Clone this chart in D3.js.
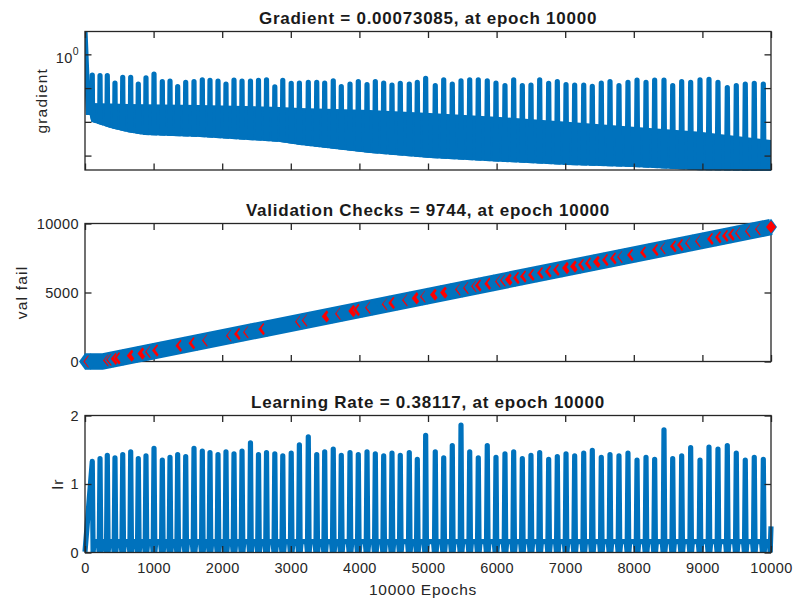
<!DOCTYPE html>
<html>
<head>
<meta charset="utf-8">
<script src="https://cdn.jsdelivr.net/npm/d3@7"></script>
<style>
  body { margin: 0; background: #fff; }
  text { font-family: "Liberation Sans", Arial, Helvetica, sans-serif; fill: #262626; }
</style>
</head>
<body>
<div id="chart"></div>
<script>
// ---- values ----
const xTickValues = [0, 1000, 2000, 3000, 4000, 5000, 6000, 7000, 8000, 9000, 10000];

// epochs where the learning rate peaks (the gradient spikes at the same epochs)
const spikeEpochs = [106, 219, 325, 437, 550, 666, 777, 889, 1006, 1127,
  1239, 1351, 1468, 1589, 1710, 1822, 1939, 2055, 2172, 2289,
  2412, 2529, 2646, 2767, 2883, 3006, 3125, 3255, 3378, 3494,
  3619, 3736, 3863, 3984, 4111, 4232, 4354, 4475, 4596, 4727,
  4844, 4966, 5106, 5229, 5354, 5481, 5608, 5733, 5864, 5991,
  6122, 6249, 6375, 6501, 6628, 6759, 6885, 7012, 7138, 7270,
  7395, 7526, 7653, 7784, 7915, 8047, 8178, 8304, 8440, 8567,
  8698, 8829, 8965, 9096, 9227, 9363, 9494, 9625, 9756, 9888];

// gradient
const gradPeaks = [0.242, 0.233, 0.233, 0.140, 0.207, 0.207, 0.131, 0.200, 0.260, 0.155,
  0.160, 0.110, 0.147, 0.157, 0.177, 0.169, 0.160, 0.131, 0.172, 0.160,
  0.160, 0.169, 0.177, 0.108, 0.171, 0.138, 0.140, 0.147, 0.147, 0.140,
  0.165, 0.110, 0.131, 0.157, 0.126, 0.157, 0.140, 0.123, 0.138, 0.131,
  0.147, 0.193, 0.118, 0.177, 0.131, 0.165, 0.177, 0.177, 0.165, 0.140,
  0.118, 0.177, 0.118, 0.123, 0.177, 0.138, 0.155, 0.126, 0.123, 0.123,
  0.112, 0.140, 0.157, 0.118, 0.147, 0.172, 0.147, 0.172, 0.172, 0.118,
  0.155, 0.147, 0.177, 0.181, 0.147, 0.104, 0.118, 0.131, 0.138, 0.131];
const gradStart = 4.7;
const gradFinal = 0.00073085;
// dense oscillation band between the spikes
const gradEnvEpochs = [0, 69, 92, 383, 627, 870, 1676, 2843, 3134, 4154, 5029, 6049, 7026, 7988, 8965, 10000];
const gradLow = [0.016, 0.016, 0.0101, 0.00646, 0.00491, 0.00408, 0.00356, 0.00253, 0.00206, 0.00119, 0.00085, 0.00066, 0.00053, 0.00046, 0.00037, 0.00035];
const gradBandTop = [0.016, 0.0364, 0.0364, 0.0350, 0.0340, 0.0330, 0.0317, 0.0277, 0.0258, 0.0226, 0.0184, 0.0140, 0.0100, 0.00711, 0.00506, 0.00290];
const gradFloor = 1e-4;

// validation checks
const valEpochs = [0, 256, 10000];
const valFail = [0, 0, 9744];
const valRedMarks = [[447, 191], [496, 240], [681, 425], [838, 582], [1050, 794], [1392, 1136], [1582, 1326],
  [2245, 1989], [2599, 2343], [3523, 3267], [3911, 3655], [3984, 3728], [4494, 4238], [4835, 4579],
  [5102, 4846], [5248, 4992], [5758, 5502], [5894, 5638], [6195, 5939], [6312, 6056], [6414, 6158],
  [6530, 6274], [6662, 6406], [6778, 6522], [6895, 6639], [7026, 6770], [7143, 6887], [7259, 7003],
  [7361, 7105], [7478, 7222], [7609, 7353], [7726, 7470], [7974, 7718], [8163, 7907], [8338, 8082],
  [8601, 8345], [8702, 8446], [9140, 8884], [9256, 9000], [9358, 9102], [9446, 9190]];
const valStrongEpochs = [681, 838, 3523, 3911, 4835, 5102, 5248, 6195, 7026, 7143, 7478];
const valFaintMarks = [[48, 0], [335, 79], [379, 123], [948, 692], [1778, 1522], [2128, 1872], [2376, 2120],
  [3134, 2878], [3232, 2976], [3717, 3461], [4154, 3898], [4398, 4142], [4694, 4438], [4956, 4700],
  [5466, 5210], [5583, 5327], [5700, 5444], [6049, 5793], [6122, 5866], [7828, 7572], [8455, 8199],
  [8820, 8564], [8965, 8709], [9548, 9292], [9693, 9437], [9839, 9583]];
const valFinal = [10000, 9744];

// learning rate
const lrPeaks = [1.33, 1.37, 1.42, 1.38, 1.43, 1.47, 1.37, 1.41, 1.52, 1.35,
  1.39, 1.43, 1.40, 1.52, 1.48, 1.46, 1.43, 1.47, 1.44, 1.48,
  1.60, 1.43, 1.46, 1.44, 1.41, 1.45, 1.57, 1.69, 1.43, 1.47,
  1.51, 1.42, 1.46, 1.43, 1.47, 1.44, 1.41, 1.45, 1.42, 1.46,
  1.36, 1.71, 1.47, 1.38, 1.56, 1.86, 1.47, 1.38, 1.56, 1.39,
  1.44, 1.47, 1.37, 1.42, 1.46, 1.36, 1.40, 1.44, 1.41, 1.45,
  1.49, 1.39, 1.43, 1.41, 1.45, 1.35, 1.39, 1.36, 1.79, 1.37,
  1.41, 1.53, 1.35, 1.54, 1.51, 1.56, 1.45, 1.35, 1.39, 1.36];
const lrStart = 0.01;
const lrFinal = 0.38117;
const lrFloor = 0.0;
const lrShelf = 0.16;

const titles = ['Gradient = 0.00073085, at epoch 10000',
  'Validation Checks = 9744, at epoch 10000',
  'Learning Rate = 0.38117, at epoch 10000'];
const yLabels = ['gradient', 'val fail', 'lr'];

// ---- layout ----
const blue = '#0072BD', ink = '#262626';
const left = 85, right = 771, tickLen = 6.5;
const lineW = 5.2, spikeHalf = 12;
const panels = [
  { top: 31.5, bottom: 170, labelX: 47 },
  { top: 223.5, bottom: 361.5, labelX: 27 },
  { top: 415.5, bottom: 552.5, labelX: 63 }
];

const svg = d3.select('#chart').append('svg')
  .attr('width', 793)
  .attr('height', 600);

const x = d3.scaleLinear().domain([0, 10000]).range([left, right]);
const yG = d3.scaleLog().domain([Math.pow(10, -3.427), Math.pow(10, 0.677)]).range([panels[0].bottom, panels[0].top]);
const yV = d3.scaleLinear().domain([0, 10000]).range([panels[1].bottom, panels[1].top]);
const yL = d3.scaleLinear().domain([0, 2]).range([panels[2].bottom, panels[2].top]);

function diamond(hw, hh) { return `M${-hw},0L0,${-hh}L${hw},0L0,${hh}Z`; }

function styleAxis(g) {
  g.select('.domain').remove();
  g.selectAll('.tick line').attr('stroke', ink).attr('stroke-width', 1.3);
  g.selectAll('.tick text')
    .attr('fill', ink)
    .style('font-size', '14.5px')
    .style('letter-spacing', '0.4px')
    .style('font-family', '"Liberation Sans", Arial, sans-serif');
}

// axes, ticks, titles, labels
function frame(i, y, yTicks, yFormat, showX) {
  const p = panels[i];
  const g = svg.append('g');
  g.append('g').attr('transform', `translate(0,${p.bottom})`)
    .call(d3.axisBottom(x).tickValues(xTickValues).tickSize(-tickLen).tickPadding(10)
      .tickFormat(showX ? d3.format('d') : () => ''))
    .call(styleAxis);
  g.append('g').attr('transform', `translate(0,${p.top})`)
    .call(d3.axisTop(x).tickValues(xTickValues).tickSize(-tickLen).tickFormat(() => ''))
    .call(styleAxis);
  g.append('g').attr('transform', `translate(${left},0)`)
    .call(d3.axisLeft(y).tickValues(yTicks).tickSize(-tickLen).tickPadding(6).tickFormat(yFormat))
    .call(styleAxis);
  g.append('g').attr('transform', `translate(${right},0)`)
    .call(d3.axisRight(y).tickValues(yTicks).tickSize(-tickLen).tickFormat(() => ''))
    .call(styleAxis);
  g.append('rect')
    .attr('x', left).attr('y', p.top)
    .attr('width', right - left).attr('height', p.bottom - p.top)
    .attr('fill', 'none').attr('stroke', ink).attr('stroke-width', 1.3);

  svg.append('text')
    .attr('x', (left + right) / 2).attr('y', p.top - 7.5)
    .attr('text-anchor', 'middle')
    .style('font-size', '17px').style('font-weight', 'bold').style('letter-spacing', '0.75px')
    .style('fill', '#1a1a1a')
    .text(titles[i]);

  svg.append('text')
    .attr('transform', `translate(${p.labelX},${(p.top + p.bottom) / 2}) rotate(-90)`)
    .attr('text-anchor', 'middle')
    .style('font-size', '15.5px').style('letter-spacing', '1.2px')
    .text(yLabels[i]);
  return g;
}

// ================= gradient =================
const gradFrame = frame(0, yG, [0.001, 0.01, 0.1, 1], () => '', false);
gradFrame.append('text')
  .attr('x', left - 6).attr('y', 63)
  .attr('text-anchor', 'end')
  .style('font-size', '14.5px').style('letter-spacing', '0.4px')
  .text('10')
  .append('tspan').attr('dy', -8).style('font-size', '10.5px').text('0');

const env = gradEnvEpochs.map((e, i) => ({ e, low: gradLow[i], top: gradBandTop[i] }));
const defs = svg.append('defs');
defs.append('clipPath').attr('id', 'gclip')
  .append('path')
  .attr('d', d3.area().x(d => x(d.e)).y0(panels[0].top).y1(d => yG(d.low))(env));
defs.append('clipPath').attr('id', 'lclip')
  .append('rect')
  .attr('x', left - 3).attr('y', panels[2].top)
  .attr('width', right - left + 6).attr('height', panels[2].bottom - panels[2].top);

const gData = svg.insert('g', 'g');
gData.append('path')
  .attr('d', d3.area().x(d => x(d.e)).y0(d => yG(d.low)).y1(d => yG(d.top))(env.slice(1)))
  .attr('fill', blue);

const gradPts = [[0, gradStart]];
spikeEpochs.forEach((e, i) => {
  gradPts.push([e - spikeHalf, gradFloor], [e, gradPeaks[i]], [e + spikeHalf, gradFloor]);
});
gradPts.push([10000, gradFinal]);

gData.append('path')
  .attr('clip-path', 'url(#gclip)')
  .attr('d', d3.line().x(d => x(d[0])).y(d => yG(d[1]))(gradPts))
  .attr('fill', 'none')
  .attr('stroke', blue)
  .attr('stroke-width', lineW)
  .attr('stroke-linejoin', 'round');

// ================= validation checks =================
frame(1, yV, [0, 5000, 10000], d3.format('d'), false);

const vData = svg.append('g');
const valPts = valEpochs.map((e, i) => [e, valFail[i]]);
vData.append('path')
  .attr('d', d3.line().x(d => x(d[0])).y(d => yV(d[1]))(valPts))
  .attr('fill', 'none')
  .attr('stroke', blue)
  .attr('stroke-width', 16.4)
  .attr('stroke-linejoin', 'round');
[valPts[0], valPts[valPts.length - 1]].forEach(d => {
  vData.append('path')
    .attr('transform', `translate(${x(d[0])},${yV(d[1])})`)
    .attr('d', diamond(6, 8.3))
    .attr('fill', blue);
});

const slope = (yV(valFail[2]) - yV(valFail[1])) / (x(valEpochs[2]) - x(valEpochs[1]));
const marks = valRedMarks.map(d => ({ e: d[0], v: d[1], off: valStrongEpochs.includes(d[0]) ? 5.6 : 4.0 }))
  .concat(valFaintMarks.map(d => ({ e: d[0], v: d[1], off: 2.4 })))
  .sort((a, b) => a.e - b.e);

marks.forEach(m => {
  const px = x(m.e), py = yV(m.v);
  vData.append('path')
    .attr('transform', `translate(${px},${py})`)
    .attr('d', diamond(5, 6.2))
    .attr('fill', '#ff0000');
  vData.append('path')
    .attr('transform', `translate(${px + m.off},${py + (m.v > 0 ? slope * m.off : 0)})`)
    .attr('d', diamond(6, 8.3))
    .attr('fill', blue);
});
vData.append('path')
  .attr('transform', `translate(${x(valFinal[0])},${yV(valFinal[1])})`)
  .attr('d', diamond(5, 6.2))
  .attr('fill', '#ff0000');

// ================= learning rate =================
const lrFrame = frame(2, yL, [0, 1, 2], d3.format('d'), true);

const lrE = spikeEpochs.concat([10000]);
const lrV = lrPeaks.concat([lrFinal]);
const lrPts = [[0, lrStart]];
lrE.forEach((e, i) => {
  if (i > 0) {
    const p = lrE[i - 1];
    lrPts.push([p + spikeHalf, lrFloor], [p + 26, lrShelf], [e - 26, lrShelf], [e - spikeHalf, lrFloor]);
  }
  lrPts.push([e, lrV[i]]);
});

svg.insert('g', () => lrFrame.node()).append('path')
  .attr('clip-path', 'url(#lclip)')
  .attr('d', d3.line().x(d => x(d[0])).y(d => yL(d[1]))(lrPts))
  .attr('fill', 'none')
  .attr('stroke', blue)
  .attr('stroke-width', lineW)
  .attr('stroke-linejoin', 'round');

svg.append('text')
  .attr('x', 423).attr('y', 595)
  .attr('text-anchor', 'middle')
  .style('font-size', '15.5px').style('letter-spacing', '0.75px')
  .text('10000 Epochs');
</script>
</body>
</html>
